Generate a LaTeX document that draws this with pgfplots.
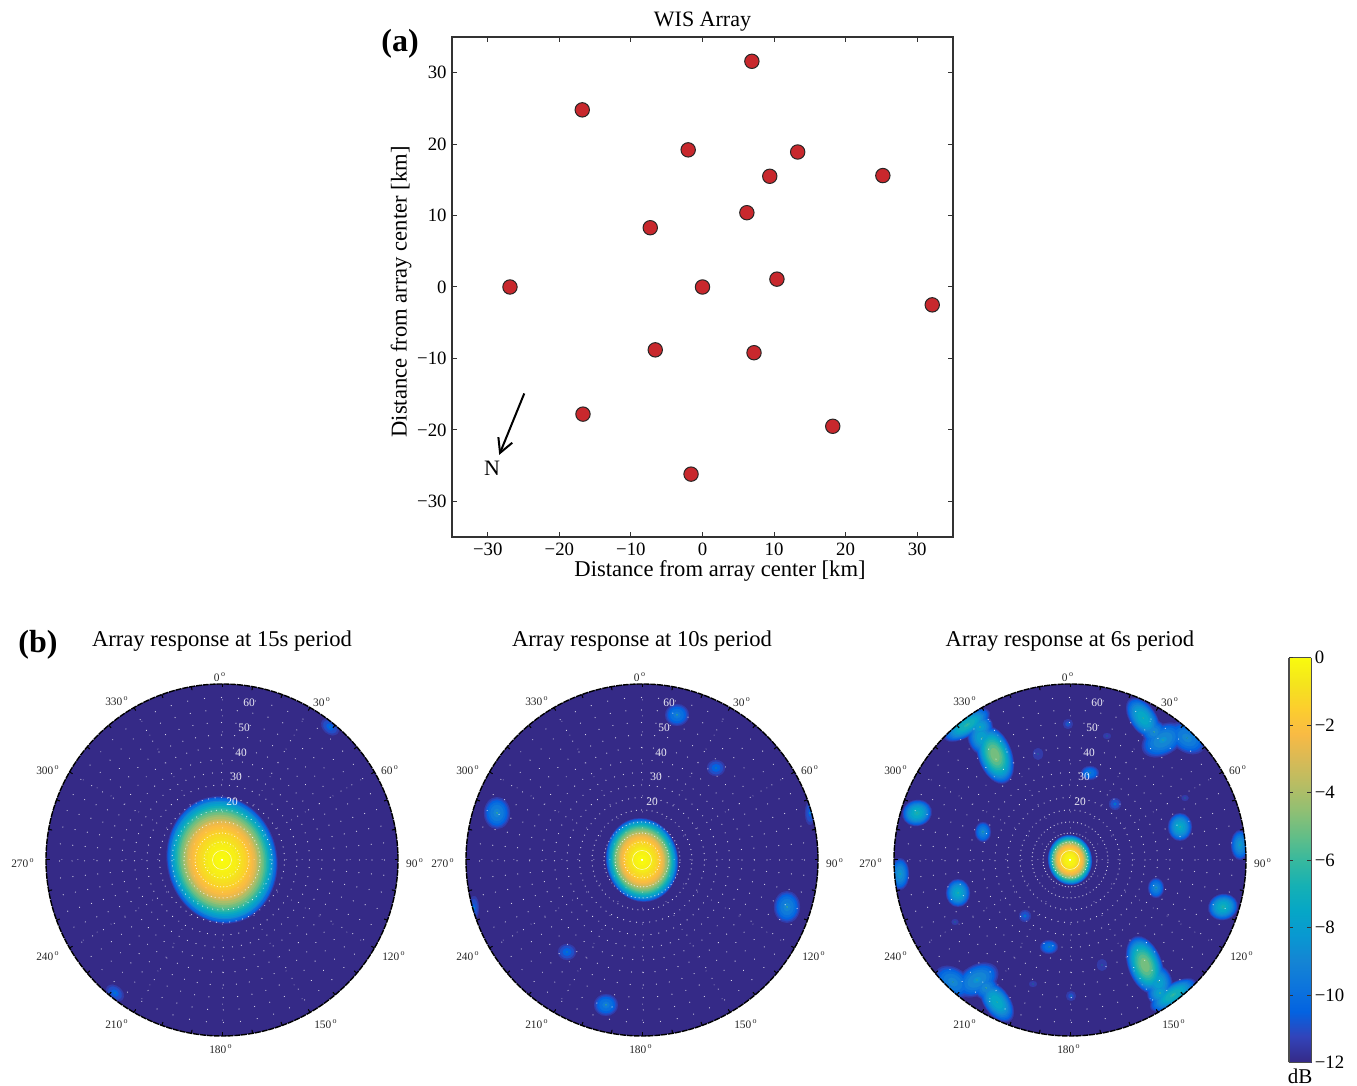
\documentclass[border=0pt]{standalone}
\usepackage{pgfplots}
\usepackage{pgfplotstable}
\usepackage{fontspec}
\setmainfont{Liberation Serif}
\pgfplotsset{compat=1.18}
\usetikzlibrary{arrows.meta}
\pgfplotsset{colormap={parula}{
rgb=(.2081,.1663,.5292) rgb=(.1959,.2645,.7279) rgb=(.0117,.3875,.8820) rgb=(.0498,.4586,.8641)
rgb=(.0793,.5200,.8312) rgb=(.0343,.5966,.8199) rgb=(.0228,.6535,.7768) rgb=(.0843,.6928,.7062)
rgb=(.2178,.7250,.6193) rgb=(.3953,.7459,.5244) rgb=(.5709,.7485,.4494) rgb=(.7184,.7411,.3905)
rgb=(.8507,.7299,.3360) rgb=(.9739,.7314,.2666) rgb=(.9880,.8066,.1794) rgb=(.9589,.8949,.1132)
rgb=(.9763,.9831,.0538)}}
\definecolor{stationred}{RGB}{200,40,45}
\definecolor{axisgray}{RGB}{50,50,50}

% station positions [km]
\pgfplotstableread{
x y
6.9 31.6
-16.8 24.8
-2.0 19.2
13.3 18.9
9.4 15.5
25.2 15.6
6.2 10.4
-7.3 8.3
-26.9 0.0
0.0 0.0
10.4 1.1
32.1 -2.5
-6.6 -8.8
7.2 -9.2
-16.7 -17.8
18.2 -19.5
-1.6 -26.2
}\tStations

% background of the polar panels
\pgfplotstableread{
x y rx ry a v
0 0 180 180 0 -12
}\tBg

% main lobe: contour at fraction rho of the lobe's size has level v [dB]
\pgfplotstableread{
x y rho v
0 0 1.00 -11.5
0 0 0.98 -10.6
0 0 0.96 -10.0
0 0 0.93 -9.0
0 0 0.91 -8.3
0 0 0.88 -7.7
0 0 0.85 -7.0
0 0 0.82 -6.4
0 0 0.79 -5.8
0 0 0.76 -5.3
0 0 0.74 -5.0
0 0 0.71 -4.5
0 0 0.68 -4.0
0 0 0.64 -3.3
0 0 0.61 -2.8
0 0 0.58 -2.5
0 0 0.55 -2.2
0 0 0.52 -2.0
0 0 0.48 -1.6
0 0 0.44 -1.3
0 0 0.40 -1.1
0 0 0.36 -0.9
0 0 0.31 -0.6
0 0 0.26 -0.4
0 0 0.20 -0.25
0 0 0.13 -0.1
0 0 0.06 0
}\tProfile

% side lobes: position, half sizes, tilt, peak level c [dB]
\pgfplotstableread{
x y rx ry a c
108 133 10 7 -40 -10.3
-107 -133 10 7 -40 -10.3
}\tSideA
\pgfplotstableread{
x y rx ry a c
35 145 12 11 0 -9.3
74 92 9 8 0 -10.2
-145 47 13 16 0 -8.8
145 -47 13 16 0 -8.8
-75 -92 9 8 0 -10.2
-36 -145 12 11 0 -9.3
168 47 5 12 0 -10.4
-168 -48 5 12 0 -10.4
}\tSideB
\pgfplotstableread{
x y rx ry a c
-75 105 17 30 20 -4.6
-103 135 26 11 32 -6.4
-90 133 13 13 0 -7.6
-88 122 14 18 20 -7.5
73 142 13 23 35 -7
84 128 12 12 0 -8.6
93 120 23 15 30 -8.4
117 122 20 14 -35 -8.8
-153 47 15 13 15 -6.8
-87 28 8 10 0 -8.8
110 33 12 14 0 -7.2
170 15 9 15 0 -8.2
-170 -14 9 16 0 -8.2
20 87 9 7 0 -9.5
45 56 6 6 0 -10.4
-2 136 5 5 0 -10.8
-32 106 5 6 0 -11
37 124 4 3 0 -11.3
115 62 3.5 3 0 -11.2
-112 -33 12 14 0 -7.2
86 -28 8 10 0 -8.8
153 -47 15 13 15 -6.8
-45 -56 6 6 0 -10.4
-115 -62 3.5 3 0 -11.2
-21 -87 9 7 0 -9.5
32 -105 5 6 0 -11
-37 -124 4 3 0 -11.3
1 -136 5 5 0 -10.8
75 -105 17 30 20 -4.6
103 -135 26 11 32 -6.4
90 -133 13 13 0 -7.6
88 -122 14 18 20 -7.5
-73 -142 13 23 35 -7
-84 -128 12 12 0 -8.6
-93 -120 23 15 30 -8.4
-117 -122 20 14 -35 -8.8
}\tSideC

\pgfplotsset{
  lobebase/.style={only marks,scatter,mark=*,mark size=1pt,
    scatter/use mapped color={draw=mapped color,fill=mapped color},
    mark options={line width=0.1pt}},
  lobe/.style={lobebase,
    visualization depends on={\thisrow{rx} \as \brx},
    visualization depends on={\thisrow{ry} \as \bry},
    visualization depends on={\thisrow{a} \as \bang}},
  contour/.style={lobe,point meta=\thisrow{v},
    scatter/@pre marker code/.append style={/tikz/rotate=\bang,/tikz/xscale=0.5*\brx,/tikz/yscale=0.5*\bry}},
  panel/.style={at={(#1pt,113pt)},anchor=center,scale only axis,width=200pt,height=200pt,
    xmin=-200,xmax=200,ymin=-200,ymax=200,hide axis,colormap name=parula,
    point meta min=-12,point meta max=0}
}
\newcommand{\mainlobe}[3]{\addplot[lobebase,point meta=\thisrow{v},
    visualization depends on={\thisrow{rho} \as \brho},
    scatter/@pre marker code/.append style={/tikz/rotate=#3,/tikz/xscale=0.5*#1*\brho,/tikz/yscale=0.5*#2*\brho}]
    table {\tProfile};}
\newcommand{\sidelobes}[1]{\pgfplotsinvokeforeach{-11.5,-11,-10.5,-10,-9.5,-9,-8.5,-8,-7.5,-7,-6.5,-6,-5.5,-5,-4.6}{
  \addplot[lobe,point meta={##1},
    visualization depends on={max(0.01,sqrt(max(0,(\thisrow{c}-(##1))/(\thisrow{c}+11.5)))) \as \bfac},
    scatter/@pre marker code/.append style={/tikz/rotate=\bang,/tikz/xscale=0.5*\brx*\bfac,/tikz/yscale=0.5*\bry*\bfac}]
    table {#1};}}

\newcommand{\panelframe}[2]{%
  \begin{scope}[shift={(#1pt,113pt)},x=0.5pt,y=0.5pt]
    \draw[white,opacity=.8,line width=.25pt] (0,0) circle[radius=9.5];
    \foreach \r in {18,27,38,50,62.5,75,87.5,100,112.5,125,137.5,150,162.5}{
      \pgfmathsetmacro{\g}{max(\r*0.0524,1.6)}
      \draw[white,opacity=.8,line width=.6pt,line cap=round,dash pattern=on 0.01pt off \g pt] (0,0) circle[radius=\r];
    }
    \foreach \t in {0,30,...,330}{
      \draw[white,opacity=.6,line width=.5pt,line cap=round,dash pattern=on 0.01pt off 8pt] (0,0) -- (\t:176);
    }
    \foreach \t in {0,10,...,350}{
      \draw[black,line width=.5pt] (\t:176) -- (\t:172.5);
    }
    \fill[white] (0,0) circle[radius=1];
    \draw[black,line width=.7pt,dash pattern=on 3pt off .45pt] (0,0) circle[radius=176];
    \foreach \x/\y/\l in {10/58/20,14/83/30,19/107/40,22/132/50,27/157/60}{
      \node[white,font=\fontsize{5.7pt}{6pt}\selectfont,inner sep=0pt,opacity=.9] at (\x,\y) {\l};
    }
    \foreach \x/\y/\l in {-2/183/0,100/158/30,168/90/60,193/-3/90,172/-96/120,104/-164/150,-1/-189/180,-105/-164/210,-174/-96/240,-199/-3/270,-174/90/300,-105/159/330}{
      \node[black!85,font=\fontsize{5.7pt}{6pt}\selectfont,inner sep=0pt] at (\x,\y) {\l\textsuperscript{\,o}};
    }
  \end{scope}
  \node[anchor=base,font=\fontsize{11.3pt}{13pt}\selectfont,inner sep=0pt] at (#1pt,219.5pt) {#2};
}

\begin{document}
\begin{tikzpicture}
\path[use as bounding box] (0,0) rectangle (678.5pt,543pt);

% (a) array geometry
\begin{axis}[at={(226pt,274.5pt)},anchor=south west,scale only axis,width=250.5pt,height=250pt,
  xmin=-35,xmax=35,ymin=-35,ymax=35,
  xtick={-30,-20,-10,0,10,20,30},ytick={-30,-20,-10,0,10,20,30},
  xticklabels={−30,−20,−10,0,10,20,30},yticklabels={−30,−20,−10,0,10,20,30},
  tick align=inside,major tick length=2.5pt,
  axis line style={axisgray,line width=.6pt},every tick/.style={axisgray,line width=.5pt},
  tick label style={font=\fontsize{9.4pt}{10pt}\selectfont},
  xticklabel style={inner sep=0pt,yshift=-3pt},
  yticklabel style={inner sep=0pt,xshift=-2.5pt},
  title={WIS Array},title style={at={(axis description cs:0.5,1)},anchor=center,yshift=1.5pt,font=\fontsize{11pt}{13pt}\selectfont,inner sep=0pt},
  xlabel={Distance from array center [km]},ylabel={Distance from array center [km]},
  label style={font=\fontsize{11.3pt}{13pt}\selectfont,inner sep=0pt},
  xlabel style={at={(axis description cs:0.535,0)},anchor=center,yshift=-17pt},
  ylabel style={at={(axis description cs:0,0.49)},anchor=center,yshift=25.5pt},
  clip=false]
\addplot[only marks,mark=*,mark size=3.6pt,mark options={fill=stationred,draw=black!85,line width=.5pt}] table {\tStations};
\draw[black,line width=1pt,-{Straight Barb[length=7pt,width=7.5pt,line width=1pt]}] (axis cs:-24.9,-14.9) -- (axis cs:-28.4,-23.5);
\node[font=\fontsize{11pt}{13pt}\selectfont,inner sep=0pt] at (axis cs:-29.4,-25.4) {N};
\end{axis}

% (b) array response panels
\begin{scope}
\clip (111pt,113pt) circle[radius=88pt];
\begin{axis}[panel=111]
\addplot[contour] table {\tBg};
\sidelobes{\tSideA}
\mainlobe{55}{64}{12}
\end{axis}
\end{scope}
\begin{scope}
\clip (321pt,113pt) circle[radius=88pt];
\begin{axis}[panel=321]
\addplot[contour] table {\tBg};
\sidelobes{\tSideB}
\mainlobe{36}{42}{10}
\end{axis}
\end{scope}
\begin{scope}
\clip (535pt,113pt) circle[radius=88pt];
\begin{axis}[panel=535]
\addplot[contour] table {\tBg};
\sidelobes{\tSideC}
\mainlobe{22}{25}{8}
\end{axis}
\end{scope}

\panelframe{111}{Array response at 15s period}
\panelframe{321}{Array response at 10s period}
\panelframe{535}{Array response at 6s period}

% colour bar
\begin{axis}[at={(644.5pt,11.75pt)},anchor=south west,scale only axis,width=11.2pt,height=202.4pt,
  xmin=0,xmax=1,ymin=-12,ymax=0,xtick=\empty,
  ytick={-12,-10,-8,-6,-4,-2,0},yticklabels={−12,−10,−8,−6,−4,−2,0},
  yticklabel pos=right,tick align=inside,major tick length=2pt,axis on top,
  axis line style={black!70,line width=.6pt},every tick/.style={black!80,line width=.5pt},
  tick label style={font=\fontsize{9.4pt}{10pt}\selectfont},
  yticklabel style={inner sep=0pt,xshift=1.5pt},
  colormap name=parula,point meta min=-12,point meta max=0,view={0}{90}]
\addplot3[surf,shader=interp,mesh/rows=2,point meta=y] coordinates {(0,-12,0) (1,-12,0) (0,0,0) (1,0,0)};
\end{axis}
\node[font=\fontsize{10.5pt}{11pt}\selectfont,inner sep=0pt] at (650pt,5pt) {dB};

\node[anchor=base,font=\fontsize{16pt}{18pt}\selectfont\bfseries,inner sep=0pt] at (200pt,517pt) {(a)};
\node[anchor=base,font=\fontsize{16pt}{18pt}\selectfont\bfseries,inner sep=0pt] at (19pt,216.5pt) {(b)};
\end{tikzpicture}
\end{document}
